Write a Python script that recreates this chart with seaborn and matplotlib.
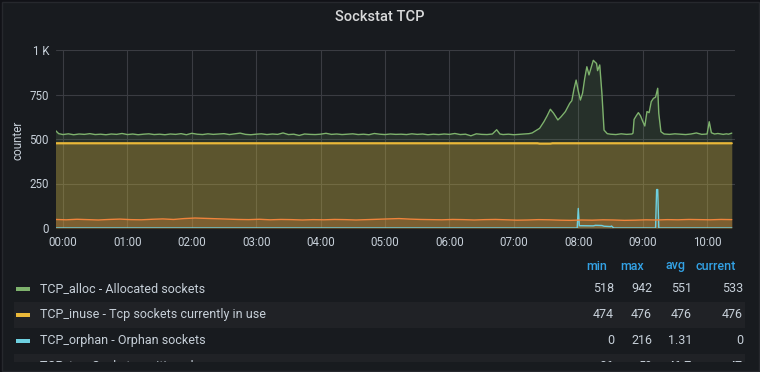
import matplotlib
matplotlib.use("Agg")
import matplotlib.pyplot as plt
import matplotlib.dates as mdates
from matplotlib.patches import Rectangle
import numpy as np
import pandas as pd
import seaborn as sns

# ---------------- data ----------------
alloc_time = [
    "23:53", "23:56", "00:00", "00:05", "00:10", "00:15", "00:20", "00:25", "00:30", "00:35",
    "00:40", "00:45", "00:50", "00:55", "01:00", "01:05", "01:10", "01:15", "01:20", "01:25",
    "01:30", "01:35", "01:40", "01:45", "01:50", "01:55", "02:00", "02:05", "02:10", "02:15",
    "02:20", "02:25", "02:30", "02:35", "02:40", "02:45", "02:50", "02:55", "03:00", "03:05",
    "03:10", "03:15", "03:20", "03:25", "03:30", "03:35", "03:40", "03:45", "03:50", "03:55",
    "04:00", "04:05", "04:10", "04:15", "04:20", "04:25", "04:30", "04:35", "04:40", "04:45",
    "04:50", "04:55", "05:00", "05:05", "05:10", "05:15", "05:20", "05:25", "05:30", "05:35",
    "05:40", "05:45", "05:50", "05:55", "06:00", "06:05", "06:10", "06:15", "06:20", "06:25",
    "06:30", "06:35", "06:40", "06:44", "06:47", "06:50", "06:55", "07:00", "07:05", "07:10",
    "07:14", "07:17", "07:20", "07:24", "07:28", "07:31", "07:34", "07:37", "07:41", "07:44",
    "07:48", "07:52", "07:54", "07:56", "07:58", "08:00", "08:02", "08:04", "08:06", "08:08",
    "08:10", "08:12", "08:14", "08:16", "08:17", "08:18", "08:20", "08:22", "08:24", "08:27",
    "08:30", "08:35", "08:40", "08:45", "08:50", "08:51", "08:52", "08:54", "08:56", "08:58",
    "09:00", "09:02", "09:04", "09:06", "09:08", "09:10", "09:12", "09:14", "09:15", "09:17",
    "09:20", "09:25", "09:30", "09:35", "09:40", "09:45", "09:50", "09:55", "10:00", "10:02",
    "10:04", "10:07", "10:10", "10:15", "10:18", "10:20", "10:23",
]
alloc_value = [
    548, 530, 525, 529, 524, 528, 526, 530, 525, 527,
    524, 528, 526, 531, 525, 528, 524, 527, 529, 525,
    527, 524, 528, 526, 530, 524, 532, 527, 525, 529,
    526, 528, 530, 525, 529, 533, 526, 524, 527, 529,
    525, 528, 526, 534, 525, 527, 520, 528, 526, 525,
    527, 532, 526, 528, 525, 527, 529, 525, 527, 524,
    531, 527, 525, 528, 526, 527, 525, 529, 526, 528,
    524, 527, 525, 528, 526, 531, 525, 527, 518, 529,
    526, 525, 528, 552, 528, 525, 527, 524, 526, 528,
    530, 534, 545, 560, 597, 630, 667, 645, 607, 625,
    654, 700, 715, 780, 831, 770, 719, 757, 840, 906,
    860, 900, 942, 930, 925, 884, 916, 758, 550, 530,
    527, 525, 529, 526, 528, 533, 610, 630, 648, 630,
    600, 573, 654, 648, 710, 728, 735, 785, 644, 541,
    528, 526, 529, 527, 525, 528, 534, 526, 528, 597,
    535, 528, 531, 526, 529, 527, 533,
]

inuse_time = ["23:53", "07:22", "07:24", "07:34", "07:36", "10:23"]
inuse_value = [476, 476, 474, 474, 476, 476]

orphan_time = ["23:53", "07:59", "08:00", "08:01", "08:14", "08:16", "08:22", "08:24",
               "08:30", "08:31", "08:33", "09:12", "09:13", "09:14", "09:15", "10:23"]
orphan_value = [0, 0, 110, 13, 12, 15, 14, 10, 8, 11, 0, 0, 216, 216, 0, 0]

tw_start, tw_step_min = "23:53", 10
tw_value = [
    48, 46, 49, 47, 45, 48, 50, 47,
    46, 49, 51, 48, 53, 56, 54, 52,
    50, 48, 47, 49, 46, 48, 47, 45,
    47, 46, 48, 47, 45, 47, 49, 51,
    53, 50, 48, 47, 46, 48, 47, 45,
    47, 48, 46, 44, 45, 47, 46, 44,
    43, 45, 44, 46, 45, 43, 44, 46,
    45, 47, 46, 48, 47, 46, 48, 47,
]

series_names = ["TCP_alloc", "TCP_inuse", "TCP_orphan", "TCP_tw"]
legend_labels = [
    "TCP_alloc - Allocated sockets",
    "TCP_inuse - Tcp sockets currently in use",
    "TCP_orphan - Orphan sockets",
    "TCP_tw - Sockets waiting close",
]
stat_headers = ["min", "max", "avg", "current"]
stat_values = [
    ["518", "942", "551", "533"],
    ["474", "476", "476", "476"],
    ["0", "216", "1.31", "0"],
    ["36", "59", "46.7", "47"],
]
colors = ["#7EB26D", "#EAB839", "#6ED0E0", "#EF843C"]
fill_alpha = [0.14, 0.28, 0.10, 0.22]

y_ticks = [0, 250, 500, 750, 1000]
y_tick_labels = ["0", "250", "500", "750", "1 K"]


def to_dt(s):
    h, m = map(int, s.split(":"))
    day = 1 if h >= 12 else 2
    return pd.Timestamp(2024, 1, day, h, m)


tw_time = pd.date_range(to_dt(tw_start), periods=len(tw_value), freq=f"{tw_step_min}min")

frames = []
for name, t, v in [
    ("TCP_alloc", [to_dt(s) for s in alloc_time], alloc_value),
    ("TCP_inuse", [to_dt(s) for s in inuse_time], inuse_value),
    ("TCP_orphan", [to_dt(s) for s in orphan_time], orphan_value),
    ("TCP_tw", list(tw_time), tw_value),
]:
    frames.append(pd.DataFrame({"time": t, "value": v, "series": name}))
df = pd.concat(frames, ignore_index=True)

# ---------------- style ----------------
sns.set_theme(style="dark")
plt.rcParams["font.family"] = ["Roboto", "DejaVu Sans"]

BG = "#181b1f"
TXT = "#c7d0d9"

W, H = 760, 372
fig = plt.figure(figsize=(W / 100, H / 100), dpi=100, facecolor="#111217")
# panel
panel = fig.add_axes([0, 0, 1, 1])
panel.set_xlim(0, W)
panel.set_ylim(H, 0)
panel.axis("off")
panel.add_patch(Rectangle((1.5, 1.5), W - 3, H - 3, facecolor=BG, edgecolor="#26282d", lw=1))

# main axes: px x 56..735, y 50..228
ax = fig.add_axes([56 / W, 1 - 228 / H, (735 - 56) / W, (228 - 50) / H])
ax.set_facecolor(BG)

pal = dict(zip(series_names, colors))
for name, a in zip(series_names, fill_alpha):
    sub = df[df.series == name]
    ax.fill_between(sub["time"], sub["value"], 0, color=pal[name], alpha=a, lw=0, zorder=1)

sns.lineplot(data=df, x="time", y="value", hue="series", hue_order=series_names,
             palette=pal, estimator=None, linewidth=1.0, legend=False, ax=ax, zorder=3)
# inuse line a touch thicker
for ln, name in zip(ax.lines, series_names):
    if name == "TCP_inuse":
        ln.set_linewidth(1.6)

ax.set_xlim(to_dt("23:53") + pd.Timedelta(seconds=30), to_dt("10:26"))
ax.set_ylim(0, 1000)
ax.set_yticks(y_ticks)
ax.set_yticklabels(y_tick_labels)
ax.xaxis.set_major_locator(mdates.HourLocator())
ax.xaxis.set_major_formatter(mdates.DateFormatter("%H:%M"))
ax.grid(True, color="#3a3c42", lw=0.8, zorder=0)
ax.set_axisbelow(True)
for sp in ax.spines.values():
    sp.set_visible(False)
ax.tick_params(axis="both", colors=TXT, labelsize=8.3, length=0)
ax.tick_params(axis="y", pad=5)
ax.tick_params(axis="x", pad=6)
ax.set_xlabel("")
ax.set_ylabel("")

fig.text(18 / W, 1 - 140 / H, "counter", rotation=90, ha="center", va="center",
         color=TXT, fontsize=8.5)
fig.text(0.5, 1 - 17 / H, "Sockstat TCP", ha="center", va="center",
         color="#d8d9da", fontsize=10.5, fontweight="medium")

# ---------------- legend table ----------------
top, bot = 254, 362
lg = fig.add_axes([0, 1 - bot / H, 1, (bot - top) / H])
lg.set_xlim(0, W)
lg.set_ylim(bot, top)
lg.axis("off")
lg.patch.set_visible(False)

header_right = [607, 644, 685, 736]
value_right = [614, 652, 692, 743]
for x, h in zip(header_right, stat_headers):
    lg.text(x, 266, h, ha="right", va="center", color="#33a2e5", fontsize=9,
            fontweight="medium", clip_on=True)

row_y = [288.5, 314.5, 340.5, 366.5]
for i, (yc, lab, col, vals) in enumerate(zip(row_y, legend_labels, colors, stat_values)):
    if i % 2 == 1:
        lg.add_patch(Rectangle((14, yc - 13), 731, 26, facecolor="#202226", lw=0,
                               clip_on=True))
    lg.add_patch(Rectangle((16, yc - 2), 14, 4, facecolor=col, lw=0, clip_on=True))
    lg.text(40, yc, lab, ha="left", va="center", color=TXT, fontsize=9, clip_on=True)
    for x, v in zip(value_right, vals):
        lg.text(x, yc, v, ha="right", va="center", color=TXT, fontsize=9, clip_on=True)

fig.savefig("out.png", dpi=100, facecolor=fig.get_facecolor())
